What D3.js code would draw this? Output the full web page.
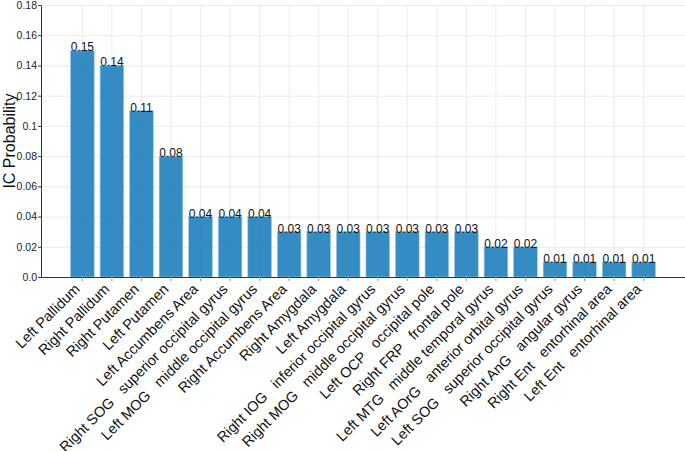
<!DOCTYPE html>
<html>
<head>
<meta charset="utf-8">
<script src="https://cdn.jsdelivr.net/npm/d3@7"></script>
<style>
  body { margin: 0; background: #fff; }
  svg { font-family: "Liberation Sans", Arial, sans-serif; }
  .xlab { white-space: pre; }
</style>
</head>
<body>
<svg id="chart"></svg>
<script>
var regions = [
    "Left Pallidum", "Right Pallidum", "Right Putamen", "Left Putamen",
    "Left Accumbens Area", "Right SOG   superior occipital gyrus",
    "Left MOG   middle occipital gyrus", "Right Accumbens Area",
    "Right Amygdala", "Left Amygdala", "Right IOG   inferior occipital gyrus",
    "Right MOG   middle occipital gyrus", "Left OCP   occipital pole",
    "Right FRP   frontal pole", "Left MTG   middle temporal gyrus",
    "Left AOrG   anterior orbital gyrus", "Left SOG   superior occipital gyrus",
    "Right AnG   angular gyrus", "Right Ent   entorhinal area", "Left Ent   entorhinal area"
];
var probs = [0.15, 0.14, 0.11, 0.08, 0.04, 0.04, 0.04, 0.03, 0.03, 0.03,
             0.03, 0.03, 0.03, 0.03, 0.02, 0.02, 0.01, 0.01, 0.01, 0.01];
var yTicks = [0, 0.02, 0.04, 0.06, 0.08, 0.1, 0.12, 0.14, 0.16, 0.18];
var yTickLabels = ["0.0", "0.02", "0.04", "0.06", "0.08", "0.1", "0.12", "0.14", "0.16", "0.18"];

var width = 685,
    height = 451,
    margin = { top: 5, right: 0, bottom: 174, left: 41 };

var svg = d3.select("#chart")
    .attr("width", width)
    .attr("height", height);

var x = d3.scaleBand()
    .domain(regions)
    .range([margin.left, width - margin.right])
    .paddingInner(0.2)
    .paddingOuter(1);

var y = d3.scaleLinear()
    .domain([0, 0.18])
    .range([height - margin.bottom, margin.top]);

// grid
var grid = svg.append("g").attr("stroke", "#ebebeb").attr("stroke-width", 1);
grid.selectAll(".hg")
    .data(yTicks)
    .join("line")
    .attr("x1", margin.left).attr("x2", width)
    .attr("y1", d => y(d) + 0.5).attr("y2", d => y(d) + 0.5);
grid.selectAll(".vg")
    .data(regions)
    .join("line")
    .attr("x1", d => x(d) + x.bandwidth() / 2).attr("x2", d => x(d) + x.bandwidth() / 2)
    .attr("y1", margin.top).attr("y2", y(0));

// bars
svg.append("g")
    .selectAll("rect")
    .data(regions)
    .join("rect")
    .attr("x", d => x(d))
    .attr("width", x.bandwidth())
    .attr("y", (d, i) => y(probs[i]))
    .attr("height", (d, i) => y(0) - y(probs[i]))
    .attr("fill", "#1f80bd")
    .attr("fill-opacity", 0.9)
    .attr("stroke", "#9cc8e4")
    .attr("stroke-width", 0.6);

// value labels
svg.append("g")
    .attr("text-anchor", "middle")
    .style("font-size", "12px")
    .selectAll("text")
    .data(regions)
    .join("text")
    .attr("x", d => x(d) + x.bandwidth() / 2)
    .attr("y", (d, i) => y(probs[i]) + 1)
    .attr("fill", "#111")
    .text((d, i) => probs[i].toFixed(2));

// y axis
var yAxis = svg.append("g")
    .attr("transform", "translate(" + margin.left + ",0)")
    .call(d3.axisLeft(y).tickValues(yTicks).tickFormat((d, i) => yTickLabels[i])
        .tickSize(3).tickPadding(1).tickSizeOuter(0));
yAxis.select(".domain").attr("stroke", "#333");
yAxis.selectAll(".tick line").attr("stroke", "#333");
yAxis.selectAll("text").style("font-size", "10.5px").attr("fill", "#222");

// x axis
var xAxis = svg.append("g")
    .attr("transform", "translate(0," + y(0) + ")")
    .call(d3.axisBottom(x).tickSize(4).tickSizeOuter(0));
xAxis.select(".domain").attr("stroke", "#333").attr("d", "M" + margin.left + ",0.5H" + width);
xAxis.selectAll(".tick line").attr("stroke", "#999");
xAxis.selectAll("text")
    .attr("class", "xlab")
    .style("font-size", "14.5px")
    .attr("fill", "#111")
    .attr("text-anchor", "end")
    .attr("dy", null)
    .attr("y", 0)
    .attr("transform", "translate(-1.5,13) rotate(-45)");

// y label
svg.append("text")
    .attr("transform", "translate(15," + ((y(0) + y(0.18)) / 2) + ") rotate(-90)")
    .attr("text-anchor", "middle")
    .style("font-size", "16px")
    .attr("fill", "#111")
    .text("IC Probability");
</script>
</body>
</html>
